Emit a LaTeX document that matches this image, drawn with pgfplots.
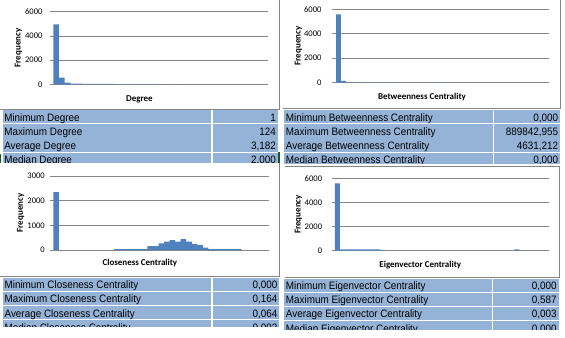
\documentclass[border=0pt]{standalone}
\usepackage{fontspec}
\setmainfont{Carlito}
\newfontfamily\tah[FakeStretch=0.92]{Liberation Sans}
\usepackage{pgfplots}
\pgfplotsset{compat=1.18}
\definecolor{barblue}{RGB}{79,129,189}
\definecolor{cellblue}{RGB}{149,179,215}
\definecolor{gridgray}{RGB}{134,134,134}
\definecolor{selgreen}{RGB}{20,90,40}
\newcommand\cellfont{\tah\fontsize{10.8}{12}\selectfont}
\newcommand\cellrow[7]{%
  \fill[cellblue] (#1,#5) rectangle (#2,#5+13.3);
  \fill[cellblue] (#3,#5) rectangle (#4,#5+13.3);
  \node[anchor=base west,inner sep=0pt,font=\cellfont] at (#1+1.4,#5+11) {#6};
  \node[anchor=base east,inner sep=0pt,font=\cellfont] at (#4-1.6,#5+11) {#7};
}
\pgfplotsset{hist/.style={
  scale only axis, anchor=south west,
  ybar, bar width=1, enlargelimits=false,
  ymin=0, axis line style={draw=none},
  ymajorgrids, grid style={gridgray, line width=0.75bp},
  xtick=\empty, major tick length=0pt,
  /pgf/number format/assume math mode=true,
  /pgf/number format/1000 sep={},
  yticklabel style={font=\fontsize{8.6}{10}\selectfont, anchor=east, inner sep=0pt},
  every axis y label/.style={rotate=90, anchor=center, font=\bfseries\fontsize{9}{10}\selectfont},
  every axis x label/.style={anchor=center, font=\bfseries\fontsize{9}{10}\selectfont},
}}
\begin{document}
\begin{tikzpicture}
\path[use as bounding box] (0,0) rectangle (565bp,-338bp);
\begin{scope}[x=1bp,y=-1bp]
  % chart boxes (top)
  \draw[gridgray, line width=0.75bp] (279.3,0) -- (279.3,109) -- (0,109);
  \draw[gridgray, line width=0.75bp] (560.5,0) -- (560.5,108.3) -- (283,108.3);
  % top tables
  \cellrow{2.7}{211.3}{212.5}{277.8}{110}{Minimum Degree}{1}
  \cellrow{2.7}{211.3}{212.5}{277.8}{124.2}{Maximum Degree}{124}
  \cellrow{2.7}{211.3}{212.5}{277.8}{138.4}{Average Degree}{3,182}
  \cellrow{2.7}{211.3}{212.5}{277.8}{152.6}{Median Degree}{2,000}
  \cellrow{284.3}{492.5}{494}{560}{110}{Minimum Betweenness Centrality}{0,000}
  \cellrow{284.3}{492.5}{494}{560}{124.2}{Maximum Betweenness Centrality}{889842,955}
  \cellrow{284.3}{492.5}{494}{560}{138.4}{Average Betweenness Centrality}{4631,212}
  \cellrow{284.3}{492.5}{494}{560}{152.6}{Median Betweenness Centrality}{0,000}
  \fill[selgreen] (278.3,151.7) rectangle (280,163.4);
  \fill[selgreen] (0,154) rectangle (1,163.4);
  % chart boxes (bottom)
  \fill[white] (0,163.4) rectangle (279.3,276);
  \draw[gridgray, line width=0.75bp] (279.3,163.4) -- (279.3,276) -- (0,276);
  \fill[white] (282,163.9) rectangle (561,277);
  \draw[gridgray, line width=0.75bp] (285,166) -- (559.5,166) -- (559.5,277) -- (285,277);
  % bottom tables
  \cellrow{3}{211.3}{212.5}{279.3}{277.7}{Minimum Closeness Centrality}{0,000}
  \cellrow{3}{211.3}{212.5}{279.3}{291.9}{Maximum Closeness Centrality}{0,164}
  \cellrow{3}{211.3}{212.5}{279.3}{306.1}{Average Closeness Centrality}{0,064}
  \cellrow{3}{211.3}{212.5}{279.3}{320.3}{Median Closeness Centrality}{0,092}
  \cellrow{284.3}{491.5}{493.3}{558.5}{278.5}{Minimum Eigenvector Centrality}{0,000}
  \cellrow{284.3}{491.5}{493.3}{558.5}{292.7}{Maximum Eigenvector Centrality}{0,587}
  \cellrow{284.3}{491.5}{493.3}{558.5}{306.9}{Average Eigenvector Centrality}{0,003}
  \cellrow{284.3}{491.5}{493.3}{558.5}{321.1}{Median Eigenvector Centrality}{0,000}
  \fill[white] (0,327.3) rectangle (282,338);
  \fill[white] (282,330) rectangle (565,338);
\end{scope}

% Degree
\begin{axis}[hist, at={(50bp,-84.3bp)}, width=218.3bp, height=72.6bp,
  xmin=-0.58, xmax=38, ymax=6000, ytick={0,2000,4000,6000},
  yticklabel style={xshift=-7.3bp},
  ylabel={Frequency}, ylabel style={at={(axis description cs:-0.1452,0.5)}},
  xlabel={Degree}, xlabel style={at={(axis description cs:0.410,-0.2066)}}]
\addplot[fill=barblue, draw=none] coordinates {(0.5,4960)(1.5,545)(2.5,130)(3.5,60)(4.5,50)(5.5,40)(6.5,35)(7.5,30)(8.5,30)(9.5,25)(10.5,25)(11.5,20)(12.5,20)(13.5,15)(14.5,5)(15.5,15)(16.5,15)(17.5,10)(18.5,5)(22.5,5)(32.5,10)};
\end{axis}

% Betweenness
\begin{axis}[hist, at={(331.7bp,-82.7bp)}, width=217.6bp, height=73.4bp,
  xmin=-0.87, xmax=43, ymax=6000, ytick={0,2000,4000,6000},
  yticklabel style={xshift=-10bp},
  ylabel={Frequency}, ylabel style={at={(axis description cs:-0.1526,0.5)}},
  xlabel={Betweenness Centrality}, xlabel style={at={(axis description cs:0.415,-0.191)}}]
\addplot[fill=barblue, draw=none] coordinates {(0.5,5590)(1.5,140)(2.5,30)(3.5,25)(4.5,20)(5.5,20)(6.5,15)(7.5,15)(8.5,15)(9.5,12)(10.5,10)(11.5,10)(12.5,8)(18.5,8)(19.5,8)(20.5,8)(21.5,8)(22.5,6)(37.5,6)};
\end{axis}

% Closeness
\begin{axis}[hist, at={(50bp,-250bp)}, width=219.3bp, height=74bp,
  xmin=-0.6, xmax=39, ymax=3000, ytick={0,1000,2000,3000},
  yticklabel style={xshift=-5bp},
  ylabel={Frequency}, ylabel style={at={(axis description cs:-0.1336,0.5)}},
  xlabel={Closeness Centrality}, xlabel style={at={(axis description cs:0.41,-0.18)}}]
\addplot[fill=barblue, draw=none] coordinates {(0.5,2350)(11.5,40)(12.5,40)(13.5,40)(14.5,40)(15.5,40)(16.5,40)(17.5,160)(18.5,160)(19.5,270)(20.5,340)(21.5,405)(22.5,340)(23.5,445)(24.5,340)(25.5,245)(26.5,200)(27.5,95)(28.5,40)(29.5,40)(30.5,40)(31.5,40)(32.5,40)(33.5,40)};
\end{axis}

% Eigenvector
\begin{axis}[hist, at={(331.7bp,-250.7bp)}, width=217.6bp, height=72.4bp,
  xmin=-0.66, xmax=43, ymax=6000, ytick={0,2000,4000,6000},
  yticklabel style={xshift=-9.4bp},
  ylabel={Frequency}, ylabel style={at={(axis description cs:-0.1526,0.5)}},
  xlabel={Eigenvector Centrality}, xlabel style={at={(axis description cs:0.407,-0.1975)}}]
\addplot[fill=barblue, draw=none] coordinates {(0.5,5585)(1.5,110)(2.5,100)(3.5,100)(4.5,100)(5.5,100)(6.5,100)(7.5,100)(8.5,100)(9.5,60)(36.5,110)};
\end{axis}
\end{tikzpicture}
\end{document}
